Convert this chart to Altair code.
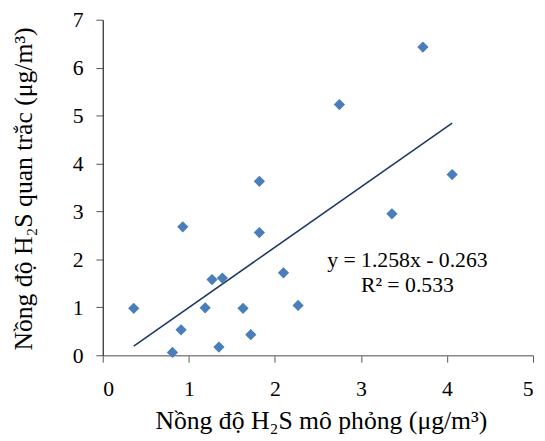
import altair as alt
import pandas as pd

# Simulated (x) vs observed (y) H2S concentrations
sim = [0.36, 0.93, 0.91, 0.81, 1.19, 1.27, 1.39, 1.35, 1.63, 1.72, 1.82, 1.82, 2.10, 2.27, 2.75, 3.36, 3.72, 4.06]
obs = [0.98, 2.68, 0.53, 0.06, 0.99, 1.58, 1.61, 0.17, 0.98, 0.43, 3.63, 2.56, 1.72, 1.04, 5.23, 2.95, 6.43, 3.77]

slope = 1.258
intercept = -0.263
eq_lines = ["y = 1.258x - 0.263", "R² = 0.533"]

x_ticks = [0, 1, 2, 3, 4, 5]
y_ticks = [0, 1, 2, 3, 4, 5, 6, 7]

df = pd.DataFrame({"sim": sim, "obs": obs})
xmin, xmax = min(sim), max(sim)
trend = pd.DataFrame({"sim": [xmin, xmax], "obs": [slope * xmin + intercept, slope * xmax + intercept]})
labels = pd.DataFrame({"sim": [3.54, 3.54], "obs": [1.85, 1.31], "t": eq_lines})

FONT = "Liberation Serif"

xs = alt.Scale(domain=[0, 5], nice=False, zero=True)
ys = alt.Scale(domain=[0, 7], nice=False, zero=True)

x_axis = alt.Axis(
    values=x_ticks, format="d", grid=False, title="Nồng độ H₂S mô phỏng (μg/m³)",
    domainColor="#888888", domainWidth=1.5, tickColor="#555555", tickSize=7,
    labelFont=FONT, labelFontSize=22, labelColor="black", labelPadding=34, labelBaseline="alphabetic",
    titleFont=FONT, titleFontSize=26, titleFontWeight="normal", titleColor="black",
    titleX=221, titleY=74, titleBaseline="alphabetic", titleAlign="center",
)
y_axis = alt.Axis(
    values=y_ticks, format="d", grid=False, title="Nồng độ H₂S quan trắc (μg/m³)",
    domainColor="#222222", domainWidth=1.2, tickColor="#555555", tickSize=7,
    labelFont=FONT, labelFontSize=22, labelColor="black", labelPadding=13,
    titleFont=FONT, titleFontSize=26, titleFontWeight="normal", titleColor="black",
    titleX=-72, titleY=171, titleAngle=270, titleBaseline="alphabetic", titleAlign="center",
)

points = alt.Chart(df).mark_point(shape="diamond", filled=True, size=130, color="#4a7ebb", opacity=1).encode(
    x=alt.X("sim:Q", scale=xs, axis=x_axis),
    y=alt.Y("obs:Q", scale=ys, axis=y_axis),
)
line = alt.Chart(trend).mark_line(color="#1b3a63", strokeWidth=1.6).encode(
    x=alt.X("sim:Q", scale=xs),
    y=alt.Y("obs:Q", scale=ys),
)
text = alt.Chart(labels).mark_text(font=FONT, fontSize=22, color="black", align="center", baseline="alphabetic").encode(
    x=alt.X("sim:Q", scale=xs),
    y=alt.Y("obs:Q", scale=ys),
    text="t:N",
)

chart = alt.layer(line, points, text).properties(
    width=436, height=340,
    autosize=alt.AutoSizeParams(type="none"),
    padding={"left": 96, "top": 9, "right": 4, "bottom": 84},
).configure_view(stroke=None).configure_axis(
    labelFont=FONT, titleFont=FONT
).configure_text(font=FONT)

chart.save("out.html", embed_options={"renderer": "svg", "actions": False})
